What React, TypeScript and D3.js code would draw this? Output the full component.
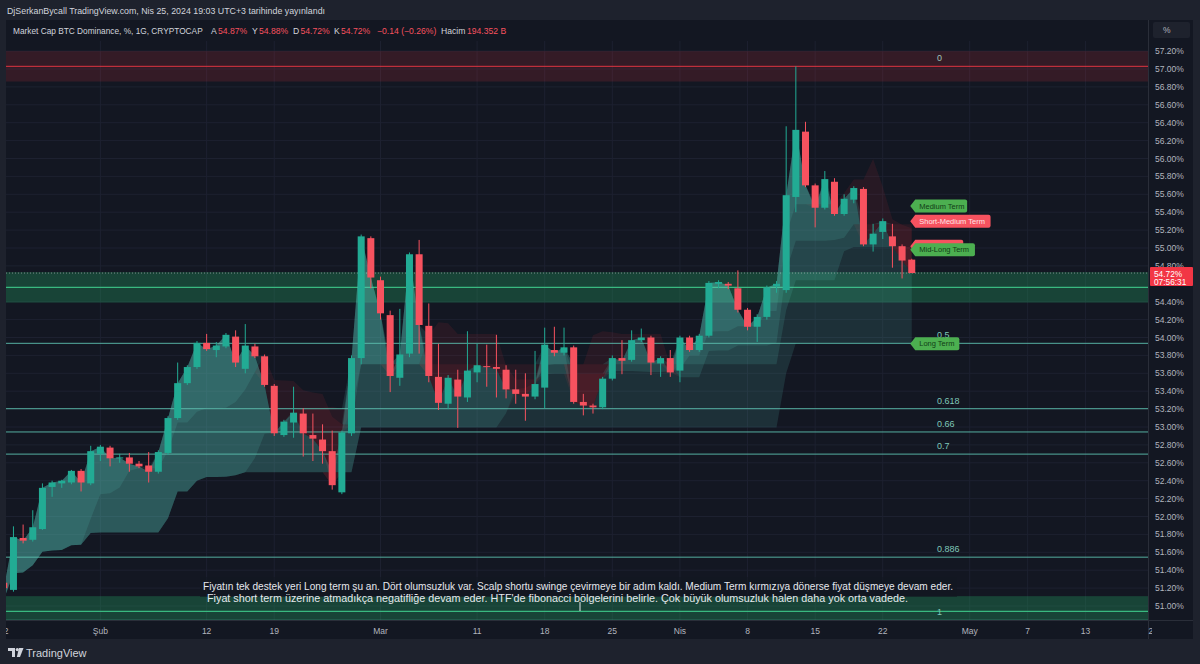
import React from "react";
import * as d3 from "d3";

// ---------- data ----------
const dates = [
  "01-22","01-23","01-24","01-25","01-26","01-27","01-28","01-29","01-30","01-31",
  "02-01","02-02","02-03","02-04","02-05","02-06","02-07","02-08","02-09","02-10",
  "02-11","02-12","02-13","02-14","02-15","02-16","02-17","02-18","02-19","02-20",
  "02-21","02-22","02-23","02-24","02-25","02-26","02-27","02-28","02-29","03-01",
  "03-02","03-03","03-04","03-05","03-06","03-07","03-08","03-09","03-10","03-11",
  "03-12","03-13","03-14","03-15","03-16","03-17","03-18","03-19","03-20","03-21",
  "03-22","03-23","03-24","03-25","03-26","03-27","03-28","03-29","03-30","03-31",
  "04-01","04-02","04-03","04-04","04-05","04-06","04-07","04-08","04-09","04-10",
  "04-11","04-12","04-13","04-14","04-15","04-16","04-17","04-18","04-19","04-20",
  "04-21","04-22","04-23","04-24","04-25",
];
const opens = [
  51.26,51.18,51.76,51.74,51.86,52.33,52.37,52.38,52.51,52.37,
  52.70,52.77,52.65,52.66,52.59,52.57,52.50,52.71,53.10,53.49,
  53.67,53.94,53.86,53.90,54.01,53.65,53.90,53.79,53.46,52.91,
  53.05,53.15,52.91,52.86,52.73,52.27,52.93,53.77,55.11,54.64,
  54.25,53.55,53.82,54.93,54.13,53.56,53.26,53.53,53.33,53.61,
  53.68,53.67,53.64,53.42,53.37,53.34,53.44,53.86,53.83,53.89,
  53.28,53.24,53.22,53.54,53.77,53.75,53.97,54.00,53.71,53.77,
  53.63,54.00,53.86,54.02,54.60,54.60,54.55,54.31,54.12,54.23,
  54.57,54.53,55.57,56.30,55.70,55.45,55.74,55.38,55.54,55.66,
  55.04,55.18,55.13,55.02,54.87,
];
const highs = [
  51.30,51.89,51.91,52.07,52.37,52.40,52.41,52.52,52.53,52.79,
  52.80,52.79,52.70,52.71,52.62,52.72,52.74,53.12,53.72,53.69,
  53.96,54.04,53.95,54.05,54.08,54.15,53.93,53.81,53.48,53.08,
  53.45,53.21,53.15,53.03,52.96,52.96,53.80,55.15,55.13,54.68,
  54.30,54.32,54.95,55.09,54.38,53.93,53.58,53.64,54.07,53.93,
  53.92,54.03,53.69,53.64,53.60,53.85,54.11,54.12,54.11,53.91,
  53.37,53.26,53.56,53.80,53.97,54.08,54.10,54.02,53.79,53.86,
  54.02,54.02,54.04,54.63,54.64,54.62,54.75,54.33,54.26,54.58,
  54.63,56.36,57.03,56.41,55.72,55.86,55.78,55.60,55.69,55.68,
  55.27,55.33,55.27,55.04,54.88,
];
const lows = [
  50.84,51.16,51.70,51.72,51.85,52.22,52.32,52.36,52.28,52.35,
  52.62,52.56,52.60,52.50,52.54,52.38,52.48,52.69,53.08,53.47,
  53.65,53.85,53.78,53.88,53.67,53.60,53.77,53.45,52.90,52.89,
  52.88,52.67,52.62,52.59,52.30,52.25,52.90,53.70,54.55,54.20,
  53.39,53.46,53.78,53.82,53.50,53.19,53.20,52.99,53.28,53.50,
  53.45,53.33,53.32,53.26,53.07,53.31,53.21,53.79,53.80,53.26,
  53.13,53.15,53.20,53.52,53.59,53.73,53.95,53.58,53.56,53.56,
  53.50,53.84,53.84,54.00,54.55,54.54,54.28,54.08,53.95,54.20,
  54.50,54.50,55.40,55.68,55.23,55.43,55.36,55.36,55.50,55.02,
  54.96,55.10,54.78,54.66,54.72,
];
const closes = [
  51.20,51.77,51.73,51.88,52.32,52.38,52.40,52.51,52.38,52.73,
  52.78,52.65,52.66,52.59,52.56,52.50,52.72,53.10,53.49,53.67,
  53.94,53.87,53.91,54.03,53.72,53.91,53.79,53.47,52.93,53.06,
  53.16,52.93,52.87,52.73,52.35,52.94,53.77,55.13,54.67,54.27,
  53.57,53.81,54.93,54.14,53.57,53.27,53.55,53.34,53.63,53.69,
  53.67,53.65,53.42,53.37,53.34,53.48,53.92,53.83,53.89,53.28,
  53.24,53.22,53.54,53.77,53.74,53.97,54.00,53.72,53.77,53.61,
  54.00,53.86,54.02,54.61,54.62,54.58,54.31,54.12,54.23,54.56,
  54.60,55.59,56.32,55.70,55.45,55.77,55.38,55.55,55.67,55.04,
  55.16,55.30,55.02,54.86,54.72,
];
const volumeText = "194.352 B";
const countdownText = "07:56:31";

const yTickValues = [
  51.0,51.2,51.4,51.6,51.8,52.0,52.2,52.4,52.6,52.8,53.0,53.2,53.4,53.6,53.8,
  54.0,54.2,54.4,54.8,55.0,55.2,55.4,55.6,55.8,56.0,56.2,56.4,56.6,56.8,57.0,57.2,
];
const xTickDates = ["01-22","02-01","02-12","02-19","03-01","03-11","03-18","03-25","04-01","04-08","04-15","04-22","05-01","05-07","05-13","05-20"];
const xTickLabels = ["22","Şub","12","19","Mar","11","18","25","Nis","8","15","22","May","7","13","20"];

const fibTop = 57.03;
const fibBottom = 50.84;
const fibLevels = [0, 0.5, 0.618, 0.66, 0.7, 0.886, 1];
const fibLabels = ["0", "0.5", "0.618", "0.66", "0.7", "0.886", "1"];

const zoneCenters = [57.03, 54.56, 50.94];
const zoneHalf = 0.17;
const zoneBullish = [false, true, true];

const bandPeriods = [9, 26, 52, 200];

const termNames = ["Short Term", "Medium Term", "Short-Medium Term", "Mid-Long Term", "Long Term"];
const termValues = [55.02, 55.47, 55.30, 54.98, 53.93];
const termBullish = [false, true, false, true, true];

const noteLines = [
  "Fiyatın tek destek yeri Long term şu an. Dört olumsuzluk var. Scalp shortu swinge çevirmeye bir adım kaldı. Medium Term kırmızıya dönerse fiyat düşmeye devam eder.",
  "Fiyat short term üzerine atmadıkça negatifliğe devam eder. HTF'de fibonacci bölgelerini belirle. Çok büyük olumsuzluk halen daha yok orta vadede.",
];

// ---------- styles ----------
const FONT = "'Liberation Sans', Arial, Helvetica, sans-serif";
const UP = "#22ab94";
const DOWN = "#f7525f";
const TEXT = "#d1d4dc";
const AXIS_TEXT = "#b2b5be";
const GRID = "#1d2130";

const parse = (s: string) => new Date(`2024-${s}T00:00:00Z`);

export default function App() {
  const W = 1200, H = 664;
  const plot = { l: 6, r: 1148, t: 41, b: 620 };
  const dts = dates.map(parse);
  const x = d3.scaleUtc().domain([parse("01-22"), parse("03-01")]).range([3.8, 380.5]);
  const y = d3.scaleLinear().domain([51, 57]).range([606, 69]);
  const idx = d3.range(closes.length);
  const last = closes.length - 1;

  const bands = bandPeriods.map((p) =>
    idx.map((i) => {
      const s = Math.max(0, i - p + 1);
      const hh = d3.max(highs.slice(s, i + 1)) as number;
      const ll = d3.min(lows.slice(s, i + 1)) as number;
      return (hh + ll) / 2;
    })
  );
  const upArea = (line: number[]) =>
    d3.area<number>().x((i) => x(dts[i])).y0((i) => y(line[i])).y1((i) => y(Math.max(closes[i], line[i])))(idx) || "";
  const dnArea = (line: number[]) =>
    d3.area<number>().x((i) => x(dts[i])).y0((i) => y(line[i])).y1((i) => y(Math.min(closes[i], line[i])))(idx) || "";

  const fibVal = (r: number) => fibTop - r * (fibTop - fibBottom);
  const bw = 7;

  const chg = closes[last] - closes[last - 1];
  const chgPct = (chg / closes[last - 1]) * 100;
  const fmt = (v: number) => v.toFixed(2);
  const minus = (s: string) => s.replace("-", "−");

  const lastX = x(dts[last]);

  const legendParts: { t: string; x: number; red: boolean; fs: number }[] = [
    { t: "Market Cap BTC Dominance, %, 1G, CRYPTOCAP", x: 13, red: false, fs: 8.3 },
    { t: "A", x: 211, red: false, fs: 8.6 },
    { t: fmt(opens[last]) + "%", x: 218, red: true, fs: 8.6 },
    { t: "Y", x: 252, red: false, fs: 8.6 },
    { t: fmt(highs[last]) + "%", x: 259, red: true, fs: 8.6 },
    { t: "D", x: 293, red: false, fs: 8.6 },
    { t: fmt(lows[last]) + "%", x: 300.5, red: true, fs: 8.6 },
    { t: "K", x: 334, red: false, fs: 8.6 },
    { t: fmt(closes[last]) + "%", x: 341, red: true, fs: 8.6 },
    { t: minus(chg.toFixed(2)) + " (" + minus(chgPct.toFixed(2)) + "%)", x: 377, red: true, fs: 8.6 },
    { t: "Hacim", x: 441, red: false, fs: 8.6 },
    { t: volumeText, x: 467, red: true, fs: 8.6 },
  ];

  // a tag whose text is covered by a later-drawn tag just below it is drawn without text
  const tagCovered = termValues.map((v, i) =>
    termValues.some((w, j) => j > i && Math.abs(y(w) - y(v)) < 8)
  );

  return (
    <svg width={W} height={H} style={{ position: "fixed", left: 0, top: 0, display: "block" }} fontFamily={FONT}>
      <defs>
        <clipPath id="plotClip">
          <rect x={plot.l} y={plot.t} width={plot.r - plot.l} height={plot.b - plot.t} />
        </clipPath>
        <clipPath id="xAxisClip">
          <rect x={plot.l} y={plot.b} width={plot.r - plot.l + 4} height={20} />
        </clipPath>
      </defs>
      <rect x={0} y={0} width={W} height={H} fill="#1e222d" />
      <rect x={plot.l} y={20} width={1193 - plot.l} height={619} fill="#131722" />

      {/* header */}
      <text x={7} y={13.5} fontSize={9} fill={TEXT} textLength={318} lengthAdjust="spacingAndGlyphs">
        DjSerkanBycall TradingView.com, Nis 25, 2024 19:03 UTC+3 tarihinde yayınlandı
      </text>

      {/* grid */}
      <g>
        {yTickValues.map((v) => (
          <line key={"gy" + v} x1={plot.l} x2={plot.r} y1={y(v)} y2={y(v)} stroke={GRID} strokeWidth={1} />
        ))}
        {xTickDates.map((d) => (
          <line key={"gx" + d} x1={x(parse(d))} x2={x(parse(d))} y1={plot.t - 20} y2={plot.b} stroke={GRID} strokeWidth={1} clipPath="url(#plotClip)" />
        ))}
      </g>

      <g clipPath="url(#plotClip)">
        {/* zones */}
        {zoneCenters.map((c, i) => (
          <g key={"z" + i}>
            <rect x={plot.l} width={plot.r - plot.l} y={y(c + zoneHalf)} height={y(c - zoneHalf) - y(c + zoneHalf)}
              fill={zoneBullish[i] ? "rgba(38,166,100,0.32)" : "rgba(242,54,69,0.15)"} />
            {zoneBullish[i] && (
              <line x1={plot.l} x2={plot.r} y1={y(c)} y2={y(c)} stroke="#39b980" strokeWidth={1.2} />
            )}
          </g>
        ))}

        {/* indicator bands */}
        {bands.map((line, k) => (
          <g key={"b" + k}>
            <path d={dnArea(line)} fill="#f23645" fillOpacity={0.09} />
            <path d={upArea(line)} fill="#5fd0bc" fillOpacity={0.14} />
          </g>
        ))}

        {/* fib lines */}
        {fibLevels.map((r, i) => (
          <line key={"f" + i} x1={plot.l} x2={plot.r} y1={y(fibVal(r))} y2={y(fibVal(r))}
            stroke={r === 0 ? "#f23645" : "#5cbfae"} strokeWidth={1} strokeOpacity={0.9} />
        ))}
        {fibLevels.map((r, i) => (
          <text key={"fl" + i} x={937} y={y(fibVal(r)) - 5} fontSize={9} fill={r === 0 ? "#9fc4bb" : "#7fc8b9"}>
            {fibLabels[i]}
          </text>
        ))}

        {/* price line */}
        <line x1={plot.l} x2={plot.r} y1={y(closes[last])} y2={y(closes[last])} stroke="#c9ccd4" strokeOpacity={0.55} strokeDasharray="1,2" />

        {/* candles */}
        {idx.map((i) => {
          const cx = x(dts[i]);
          const up = closes[i] >= opens[i];
          const col = up ? UP : DOWN;
          const top = y(Math.max(opens[i], closes[i]));
          const bot = y(Math.min(opens[i], closes[i]));
          return (
            <g key={"c" + i}>
              <line x1={cx} x2={cx} y1={y(highs[i])} y2={y(lows[i])} stroke={col} strokeWidth={1} />
              <rect x={cx - bw / 2} y={top} width={bw} height={Math.max(1, bot - top)} fill={col} />
            </g>
          );
        })}

        {/* note */}
        <rect x={200} y={577} width={757} height={20} fill="#131722" fillOpacity={0.6} />
        {noteLines.map((t, i) => (
          <text key={"n" + i} x={i === 0 ? 203 : 207} y={590 + i * 12} fontSize={10.5} fill="#e6e8ee"
            textLength={i === 0 ? 750 : 701} lengthAdjust="spacingAndGlyphs">
            {t}
          </text>
        ))}
        <line x1={580} x2={580} y1={602} y2={611} stroke="#e6e8ee" strokeWidth={1} />

        {/* term labels */}
        {termNames.map((name, i) => {
          const yc = y(termValues[i]);
          const w = name.length * 3.9 + 7;
          const x0 = lastX - 1.5;
          const d = `M${x0},${yc} L${x0 + 5},${yc - 6.5} L${x0 + 5 + w},${yc - 6.5} Q${x0 + 7 + w},${yc - 6.5} ${x0 + 7 + w},${yc - 4.5} L${x0 + 7 + w},${yc + 4.5} Q${x0 + 7 + w},${yc + 6.5} ${x0 + 5 + w},${yc + 6.5} L${x0 + 5},${yc + 6.5} Z`;
          return (
            <g key={"t" + i}>
              <path d={d} fill={termBullish[i] ? "#4caf50" : "#f7525f"} />
              {!tagCovered[i] && (
                <text x={x0 + 9} y={yc + 2.7} fontSize={7.5} fill={termBullish[i] ? "#123d17" : "#ffe3e6"}>
                  {name}
                </text>
              )}
            </g>
          );
        })}
      </g>

      {/* legend */}
      {legendParts.map((p, i) => (
        <text key={"lg" + i} x={p.x} y={33.5} fontSize={p.fs} fill={p.red ? DOWN : TEXT}>
          {p.t}
        </text>
      ))}

      {/* axes borders */}
      <line x1={plot.r + 0.5} x2={plot.r + 0.5} y1={20} y2={639} stroke="#2a2e39" />
      <line x1={plot.l} x2={1193} y1={plot.b + 0.5} y2={plot.b + 0.5} stroke="#2a2e39" />

      {/* right axis */}
      <rect x={1153} y={22} width={37} height={16} rx={2} fill="#1e222d" />
      <text x={1163} y={33} fontSize={8.5} fill={AXIS_TEXT}>%</text>
      {yTickValues.map((v) => (
        <text key={"yl" + v} x={1155} y={y(v) + 3} fontSize={8.5} fill={AXIS_TEXT}>
          {v.toFixed(2)}%
        </text>
      ))}
      <rect x={1150} y={y(closes[last]) - 6} width={43} height={19} rx={1} fill="#f23645" />
      <text x={1154} y={y(closes[last]) + 3.5} fontSize={8.3} fill="#ffffff">{fmt(closes[last])}%</text>
      <text x={1154} y={y(closes[last]) + 11.5} fontSize={8.3} fill="#ffffff">{countdownText}</text>

      {/* bottom axis */}
      <g clipPath="url(#xAxisClip)">
        {xTickDates.map((d, i) => (
          <text key={"xl" + d} x={x(parse(d))} y={634} fontSize={8.5} fill={AXIS_TEXT} textAnchor="middle">
            {xTickLabels[i]}
          </text>
        ))}
      </g>

      {/* footer */}
      <path d="M8,648 h7 v9 h-3 v-6 h-4 z" fill={TEXT} />
      <circle cx={17.3} cy={649.6} r={1.6} fill={TEXT} />
      <path d="M19,648 h4.5 l-3.5,9 h-3.2 z" fill={TEXT} />
      <text x={26} y={656.5} fontSize={11} fill={TEXT}>TradingView</text>
    </svg>
  );
}
